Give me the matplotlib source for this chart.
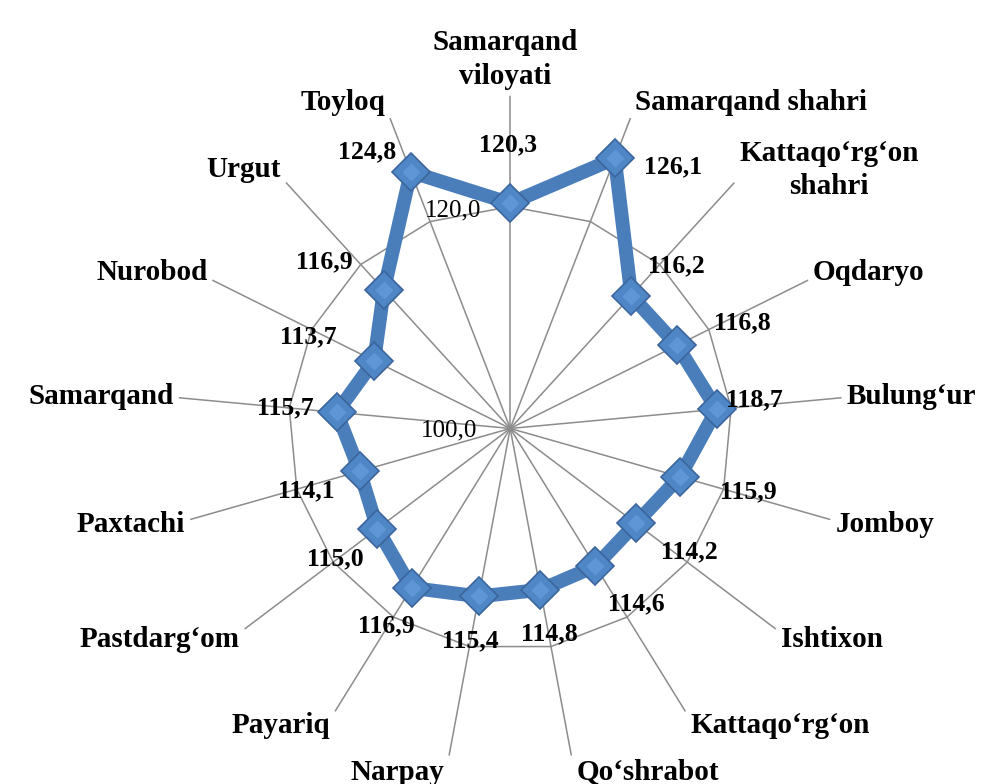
import numpy as np
import matplotlib
matplotlib.use("Agg")
import matplotlib.pyplot as plt

# categories clockwise from the top
districts = ["Samarqand\nviloyati", "Samarqand shahri", "Kattaqo‘rg‘on\nshahri", "Oqdaryo",
             "Bulung‘ur", "Jomboy", "Ishtixon", "Kattaqo‘rg‘on", "Qo‘shrabot", "Narpay",
             "Payariq", "Pastdarg‘om", "Paxtachi", "Samarqand", "Nurobod", "Urgut", "Toyloq"]
values = [120.3, 126.1, 116.2, 116.8, 118.7, 115.9, 114.2, 114.6, 114.8, 115.4,
          116.9, 115.0, 114.1, 115.7, 113.7, 116.9, 124.8]
r_min, r_max = 100, 130
grid_levels = [120]

# data label offsets in pixels (dx, dy up)
label_offsets = [(-2, 58), (58, -8), (45, 30), (65, 23), (38, 10), (68, -15), (53, -28),
                 (41, -38), (9, -44), (-8, -44), (-25, -38), (-42, -30), (-53, -20),
                 (-51, 5), (-66, 24), (-60, 28), (-44, 20)]

serif = "Liberation Serif"
blue = "#4a7ebb"
gray = "#8c8c8c"

n = len(districts)
angles = np.arange(n) * 2 * np.pi / n
closed_a = np.append(angles, angles[0])

fig = plt.figure(figsize=(9.84, 7.84), dpi=100)
ax = fig.add_axes([0.180, 0.029, 0.677, 0.849], projection="polar")
ax.set_theta_zero_location("N")
ax.set_theta_direction(-1)
ax.set_ylim(r_min, r_max)
ax.grid(False)
ax.set_xticks([])
ax.set_yticks([])
ax.spines["polar"].set_visible(False)

# spokes
for a in angles:
    ax.plot([a, a], [r_min, r_max], color=gray, lw=1.1, zorder=1)
# polygon gridlines
for g in grid_levels:
    ax.plot(closed_a, [g] * (n + 1), color=gray, lw=1.1, zorder=1)

# tick labels
ax.annotate("120,0", (0, 120), xytext=(-29, -4), textcoords="offset pixels",
            ha="right", va="center", fontsize=18, family=serif, zorder=2)
ax.annotate("100,0", (0, 100), xytext=(-33, -2), textcoords="offset pixels",
            ha="right", va="center", fontsize=18, family=serif, zorder=2)

# series
closed_v = values + values[:1]
ax.plot(closed_a, closed_v, color=blue, lw=10, solid_joinstyle="round", zorder=3)
ax.plot(angles, values, ls="none", marker="D", ms=19.5, mfc="#4f86c6",
        mec="#3a659c", mew=1.2, zorder=4)
ax.plot(angles, values, ls="none", marker="D", ms=9.5, mfc="#5e96d6",
        mec="none", zorder=5)

for a, v, (dx, dy) in zip(angles, values, label_offsets):
    ax.annotate(f"{v:.1f}".replace(".", ","), (a, v), xytext=(dx, dy),
                textcoords="offset pixels", ha="center", va="center",
                fontsize=18.5, fontweight="bold", family=serif, zorder=6)

# category labels
for a, name in zip(angles, districts):
    s, c = np.sin(a), np.cos(a)
    if abs(s) < 0.05:
        ax.annotate(name, (a, r_max), xytext=(-5, 6), textcoords="offset pixels",
                    ha="center", va="bottom", fontsize=21, fontweight="bold",
                    family=serif, multialignment="center", linespacing=1.3)
        continue
    ha = "left" if s > 0 else "right"
    ax.annotate(name, (a, r_max), xytext=(5 * np.sign(s), 17 * c),
                textcoords="offset pixels", ha=ha, va="center", fontsize=21,
                fontweight="bold", family=serif, multialignment="center",
                linespacing=1.3)

fig.savefig("out.png", dpi=100)
